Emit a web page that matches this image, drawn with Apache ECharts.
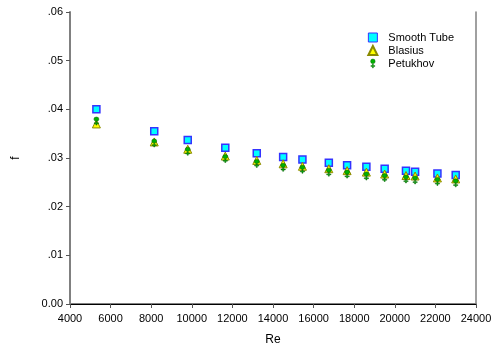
<!DOCTYPE html>
<html>
<head>
<meta charset="utf-8">
<script src="https://cdn.jsdelivr.net/npm/echarts@6/dist/echarts.min.js"></script>
<style>
  html, body { margin: 0; padding: 0; background: #fff; }
  #chart { width: 495px; height: 351px; }
</style>
</head>
<body>
<div id="chart"></div>
<script>
// Re values
const reynolds = [5300, 8150, 9800, 11650, 13200, 14500, 15450, 16750, 17650, 18600, 19500, 20550, 21000, 22100, 23000];
const smoothTube = [0.0400, 0.0355, 0.0337, 0.0321, 0.0310, 0.0302, 0.0297, 0.0290, 0.0285, 0.0282, 0.0278, 0.0274, 0.0272, 0.0268, 0.0265];
const blasius = [0.0370, 0.0333, 0.0318, 0.0304, 0.0295, 0.0288, 0.0283, 0.0278, 0.0274, 0.0271, 0.0267, 0.0264, 0.0263, 0.0259, 0.0257];
const petukhov = [0.0379, 0.0334, 0.0317, 0.0302, 0.0292, 0.0284, 0.0280, 0.0274, 0.0270, 0.0266, 0.0263, 0.0260, 0.0258, 0.0255, 0.0252];

const FONT = "Liberation Sans, Arial, sans-serif";
// green dot with a small plus underneath
const PIN = "path://M5,1.5A3.5,3.5 0 1,1 4.99,1.5Z M4.3,9H5.7V11.3H8V12.7H5.7V15H4.3V12.7H2V11.3H4.3Z";

function pairs(ys) {
  return reynolds.map((x, i) => [x, ys[i]]);
}

const chart = echarts.init(document.getElementById("chart"));

chart.setOption({
  animation: false,
  grid: { left: 70, right: 19, top: 12, bottom: 46 },
  legend: {
    right: 36, top: 27,
    orient: "vertical",
    itemGap: 2,
    itemWidth: 9, itemHeight: 9,
    textStyle: { fontFamily: FONT, fontSize: 11, color: "#000", padding: [0, 0, 0, 6] },
    data: [
      { name: "Smooth Tube", itemStyle: { borderWidth: 1 } },
      { name: "Blasius" },
      { name: "Petukhov", itemStyle: { borderWidth: 0.4 } }
    ]
  },
  xAxis: [
    {
      type: "value", min: 4000, max: 24000, interval: 2000,
      name: "Re", nameLocation: "middle", nameGap: 30,
      nameTextStyle: { fontFamily: FONT, fontSize: 12, color: "#000" },
      axisLine: { lineStyle: { color: "#808080", width: 2 } },
      axisTick: { length: 4, lineStyle: { color: "#555" } },
      axisLabel: { fontFamily: FONT, fontSize: 11, color: "#000", margin: 9, formatter: (v) => String(v) },
      splitLine: { show: false }
    },
    {
      type: "value", position: "top", min: 4000, max: 24000,
      axisLine: { show: true, lineStyle: { color: "#000", width: 1 } },
      axisTick: { show: false }, axisLabel: { show: false }, splitLine: { show: false }
    }
  ],
  yAxis: [
    {
      type: "value", min: 0, max: 0.06, interval: 0.01,
      name: "f", nameLocation: "middle", nameGap: 48, nameRotate: 90,
      nameTextStyle: { fontFamily: FONT, fontSize: 12, color: "#000" },
      axisLine: { show: true, lineStyle: { color: "#808080", width: 2 } },
      axisTick: { show: true, length: 4, lineStyle: { color: "#555" } },
      axisLabel: {
        fontFamily: FONT, fontSize: 11, color: "#000", margin: 7,
        formatter: (v) => v === 0 ? "0.00" : v.toFixed(2).replace(/^0/, "")
      },
      splitLine: { show: false }
    },
    {
      type: "value", position: "right", min: 0, max: 0.06,
      axisLine: { show: true, lineStyle: { color: "#808080", width: 1.5 } },
      axisTick: { show: false }, axisLabel: { show: false }, splitLine: { show: false }
    }
  ],
  series: [
    {
      name: "Smooth Tube", type: "scatter", data: pairs(smoothTube),
      symbol: "rect", symbolSize: 7,
      itemStyle: { color: "#00ffff", borderColor: "#3333ff", borderWidth: 1.5, opacity: 1 },
      z: 2
    },
    {
      name: "Blasius", type: "scatter", data: pairs(blasius),
      symbol: "triangle", symbolSize: 8,
      itemStyle: { color: "#ffff00", borderColor: "#8a8a00", borderWidth: 1, opacity: 1 },
      z: 3
    },
    {
      name: "Petukhov", type: "scatter", data: pairs(petukhov),
      symbol: PIN, symbolSize: [5, 8], symbolOffset: [0, 1.5],
      itemStyle: { color: "#00b000", borderColor: "#006000", borderWidth: 0.5, opacity: 1 },
      z: 4
    }
  ]
});
</script>
</body>
</html>
